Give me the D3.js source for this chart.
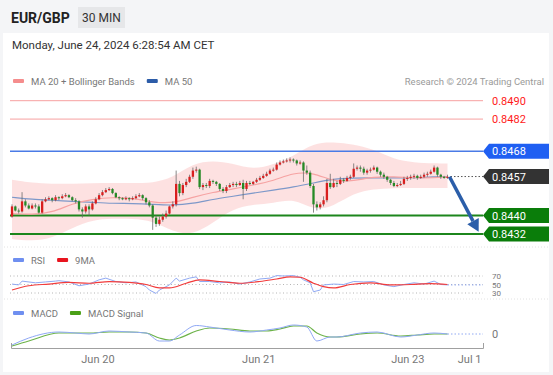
<!DOCTYPE html>
<html>
<head>
<meta charset="utf-8">
<script src="https://cdn.jsdelivr.net/npm/d3@7"></script>
<style>
body { margin: 0; background: #f4f5f7; }
svg { display: block; font-family: Roboto, "Liberation Sans", sans-serif; }
</style>
</head>
<body>
<div id="chart"></div>
<script>
var W = 553, H = 375;

// 30 min candles, [open, high, low, close]
var candles = [
[0.84396,0.84449,0.84391,0.84440],[0.84440,0.84444,0.84418,0.84422],[0.84422,0.84431,0.84409,0.84418],[0.84418,0.84502,0.84413,0.84462],
[0.84462,0.84471,0.84436,0.84444],[0.84444,0.84453,0.84427,0.84431],[0.84431,0.84453,0.84427,0.84444],[0.84444,0.84453,0.84431,0.84440],
[0.84440,0.84449,0.84409,0.84413],[0.84413,0.84471,0.84409,0.84462],[0.84462,0.84480,0.84458,0.84471],[0.84471,0.84484,0.84467,0.84476],
[0.84476,0.84480,0.84458,0.84467],[0.84467,0.84489,0.84462,0.84480],[0.84480,0.84484,0.84467,0.84476],[0.84476,0.84493,0.84471,0.84484],
[0.84484,0.84498,0.84480,0.84489],[0.84489,0.84493,0.84476,0.84480],[0.84480,0.84484,0.84462,0.84467],[0.84467,0.84476,0.84453,0.84462],
[0.84462,0.84467,0.84418,0.84427],[0.84427,0.84436,0.84391,0.84418],[0.84418,0.84449,0.84409,0.84440],[0.84440,0.84449,0.84400,0.84427],
[0.84427,0.84462,0.84422,0.84453],[0.84453,0.84480,0.84449,0.84471],[0.84471,0.84498,0.84467,0.84489],[0.84489,0.84511,0.84484,0.84502],
[0.84502,0.84520,0.84498,0.84511],[0.84511,0.84524,0.84507,0.84516],[0.84516,0.84520,0.84493,0.84498],[0.84498,0.84502,0.84476,0.84480],
[0.84480,0.84484,0.84467,0.84476],[0.84476,0.84480,0.84467,0.84471],[0.84471,0.84484,0.84467,0.84476],[0.84476,0.84480,0.84462,0.84471],
[0.84471,0.84484,0.84467,0.84476],[0.84476,0.84493,0.84471,0.84484],[0.84484,0.84498,0.84480,0.84489],[0.84489,0.84493,0.84467,0.84476],
[0.84476,0.84480,0.84449,0.84458],[0.84458,0.84467,0.84436,0.84444],[0.84444,0.84449,0.84338,0.84391],[0.84391,0.84400,0.84351,0.84364],
[0.84364,0.84396,0.84356,0.84382],[0.84382,0.84409,0.84373,0.84396],[0.84396,0.84422,0.84387,0.84409],[0.84409,0.84444,0.84404,0.84440],
[0.84440,0.84462,0.84431,0.84449],[0.84449,0.84596,0.84440,0.84538],[0.84538,0.84551,0.84484,0.84498],[0.84498,0.84542,0.84489,0.84533],
[0.84533,0.84560,0.84524,0.84547],[0.84547,0.84578,0.84542,0.84569],[0.84569,0.84609,0.84560,0.84596],[0.84596,0.84613,0.84587,0.84600],
[0.84600,0.84604,0.84516,0.84524],[0.84524,0.84542,0.84511,0.84533],[0.84533,0.84542,0.84520,0.84529],[0.84529,0.84560,0.84520,0.84551],
[0.84551,0.84556,0.84538,0.84547],[0.84547,0.84551,0.84529,0.84538],[0.84538,0.84542,0.84507,0.84516],[0.84516,0.84524,0.84498,0.84507],
[0.84507,0.84533,0.84498,0.84524],[0.84524,0.84542,0.84520,0.84533],[0.84533,0.84547,0.84524,0.84538],[0.84538,0.84547,0.84524,0.84533],
[0.84533,0.84551,0.84529,0.84542],[0.84542,0.84556,0.84471,0.84516],[0.84516,0.84551,0.84507,0.84542],[0.84542,0.84551,0.84533,0.84538],
[0.84538,0.84551,0.84533,0.84547],[0.84547,0.84564,0.84542,0.84556],[0.84556,0.84573,0.84551,0.84564],[0.84564,0.84582,0.84560,0.84573],
[0.84573,0.84591,0.84569,0.84582],[0.84582,0.84604,0.84578,0.84596],[0.84596,0.84609,0.84591,0.84600],[0.84600,0.84631,0.84596,0.84622],
[0.84622,0.84640,0.84618,0.84631],[0.84631,0.84644,0.84627,0.84636],[0.84636,0.84649,0.84631,0.84640],[0.84640,0.84653,0.84631,0.84644],
[0.84644,0.84649,0.84631,0.84640],[0.84640,0.84644,0.84618,0.84627],[0.84627,0.84640,0.84622,0.84631],[0.84631,0.84636,0.84547,0.84596],
[0.84596,0.84618,0.84578,0.84587],[0.84587,0.84596,0.84520,0.84529],[0.84529,0.84538,0.84413,0.84449],[0.84449,0.84462,0.84422,0.84436],
[0.84436,0.84458,0.84427,0.84449],[0.84449,0.84484,0.84440,0.84467],[0.84467,0.84560,0.84458,0.84542],[0.84542,0.84582,0.84516,0.84524],
[0.84524,0.84560,0.84520,0.84542],[0.84542,0.84551,0.84524,0.84538],[0.84538,0.84569,0.84533,0.84556],[0.84556,0.84564,0.84542,0.84551],
[0.84551,0.84573,0.84547,0.84564],[0.84564,0.84578,0.84556,0.84569],[0.84569,0.84627,0.84564,0.84604],[0.84604,0.84618,0.84596,0.84609],
[0.84609,0.84618,0.84591,0.84604],[0.84604,0.84613,0.84578,0.84587],[0.84587,0.84604,0.84578,0.84596],[0.84596,0.84609,0.84587,0.84600],
[0.84600,0.84618,0.84596,0.84609],[0.84609,0.84613,0.84582,0.84591],[0.84591,0.84596,0.84569,0.84578],[0.84578,0.84587,0.84560,0.84569],
[0.84569,0.84573,0.84547,0.84556],[0.84556,0.84560,0.84533,0.84542],[0.84542,0.84551,0.84524,0.84529],[0.84529,0.84542,0.84524,0.84533],
[0.84533,0.84551,0.84529,0.84538],[0.84538,0.84569,0.84533,0.84560],[0.84560,0.84573,0.84551,0.84564],[0.84564,0.84578,0.84556,0.84569],
[0.84569,0.84582,0.84560,0.84573],[0.84573,0.84578,0.84556,0.84564],[0.84564,0.84578,0.84560,0.84569],[0.84569,0.84587,0.84564,0.84578],
[0.84578,0.84591,0.84569,0.84582],[0.84582,0.84600,0.84578,0.84591],[0.84591,0.84618,0.84587,0.84609],[0.84609,0.84613,0.84569,0.84578],
[0.84578,0.84582,0.84560,0.84569],[0.84569,0.84573,0.84560,0.84564],[0.84564,0.84578,0.84560,0.84569]
];

// moving averages and bands, sampled at candle indices
var maIdx   = [0,6,12,18,24,30,36,42,48,54,60,66,72,78,84,90,96,102,108,114,120,126,130];
var ma20    = [0.84409,0.84404,0.84413,0.84453,0.84471,0.84480,0.84476,0.84458,0.84453,0.84480,0.84502,0.84516,0.84533,0.84551,0.84587,0.84587,0.84547,0.84551,0.84569,0.84569,0.84564,0.84564,0.84569];
var ma50    = [0.84480,0.84471,0.84467,0.84462,0.84458,0.84453,0.84453,0.84449,0.84444,0.84453,0.84471,0.84484,0.84498,0.84511,0.84524,0.84542,0.84560,0.84564,0.84564,0.84564,0.84564,0.84569,0.84569];
var bbUpper = [0.84556,0.84542,0.84538,0.84538,0.84542,0.84542,0.84542,0.84542,0.84564,0.84627,0.84640,0.84627,0.84600,0.84622,0.84658,0.84716,0.84720,0.84711,0.84689,0.84644,0.84631,0.84627,0.84627];
var bbLower = [0.84298,0.84289,0.84302,0.84347,0.84382,0.84387,0.84387,0.84378,0.84329,0.84316,0.84369,0.84431,0.84449,0.84453,0.84476,0.84422,0.84440,0.84498,0.84516,0.84520,0.84520,0.84520,0.84520];

var rsiIdx = [0,2,3,7,10,13,14,17,20,23,26,28,31,34,37,40,41,43,44,47,49,50,53,55,56,59,62,65,68,71,74,77,79,81,84,86,87,89,90,92,93,96,99,102,105,108,111,114,117,120,123,126,128,130];
var rsi    = [51,49,58,54,56,58,59,56,47,51,61,65,57,54,56,45,37,29,37,49,65,58,65,68,57,57,54,56,51,56,63,65,71,70,71,67,61,54,33,37,49,51,50,57,56,57,49,45,50,54,51,58,50,49];
var rsiMaIdx = [0,5,11,17,23,29,35,40,44,47,52,56,62,68,74,79,83,86,90,93,96,101,107,113,119,125,130];
var rsiMa    = [37,47,51,55,53,57,55,50,42,42,53,61,57,53,57,63,68,67,53,45,42,50,54,49,50,52,50];
var rsiLevels = [70, 50, 30];

var macdIdx    = [0,5,14,19,23,29,35,40,44,47,50,55,59,65,71,76,80,84,88,91,95,97,104,109,116,121,126,130];
var macd       = [-0.00022,-0.00008,0.00004,0.00002,0,0.00006,0.00004,0.00002,-0.00014,-0.00014,-0.00002,0.00017,0.00014,0.00008,0.00004,0.00008,0.00012,0.00018,0.00014,-0.00014,-0.00006,-0.00006,0.00002,0.00004,-0.00006,-0.00002,0.00002,0];
var macdSignal = [-0.00024,-0.00014,0.00002,0.00002,0.00002,0.00004,0.00004,0.00002,-0.00008,-0.00012,-0.00008,0.00006,0.00012,0.0001,0.00006,0.00006,0.0001,0.00016,0.00016,0.00002,-0.00006,-0.00006,0,0.00002,-0.00004,-0.00002,0,0];

var resistances = [0.8490, 0.8482];
var pivot = 0.8468;
var lastPrice = 0.8457;
var supports = [0.8440, 0.8432];
var arrowTarget = {idx: 139.3, price: 0.8433};

var tickIdx = [25.5, 73.5, 118];
var tickLabels = ['Jun 20', 'Jun 21', 'Jun 23', 'Jul 1'];

var svg = d3.select('#chart').append('svg').attr('width', W).attr('height', H);

// frame
svg.append('rect').attr('width', W).attr('height', H).attr('fill', '#f4f5f7');
svg.append('rect').attr('x', 3).attr('y', 33).attr('width', 546).attr('height', 339).attr('fill', '#fff');

// header
svg.append('text').attr('x', 11).attr('y', 23).attr('font-size', 14).attr('font-weight', 'bold').attr('fill', '#222').text('EUR/GBP');
svg.append('rect').attr('x', 78).attr('y', 7).attr('width', 47).attr('height', 21).attr('fill', '#e6e7e9');
svg.append('text').attr('x', 101.5).attr('y', 22).attr('text-anchor', 'middle').attr('font-size', 12).attr('fill', '#333').text('30 MIN');
svg.append('text').attr('x', 12).attr('y', 49).attr('font-size', 11.5).attr('fill', '#333').text('Monday, June 24, 2024 6:28:54 AM CET');

var x = d3.scaleLinear().domain([0, 130]).range([12, 447.5]);
var y = d3.scaleLinear().domain([0.8432, 0.8490]).range([234, 100.7]);
var yR = d3.scaleLinear().domain([30, 70]).range([293, 276]);
var yM = d3.scaleLinear().domain([-0.0002, 0.0002]).range([344, 324]);
var xL = 10, xR = 483;

function legend(g, yy, items) {
	var cx = 13;
	items.forEach(function(it) {
		g.append('rect').attr('x', cx).attr('y', yy - 2).attr('width', 11).attr('height', 4).attr('rx', 1).attr('fill', it.c);
		var t = g.append('text').attr('x', cx + 18).attr('y', yy + 3.5).attr('font-size', 9.5).attr('fill', '#777').text(it.t);
		cx += 18 + t.node().getComputedTextLength() + 12;
	});
}

// main legend
legend(svg, 81, [{t: 'MA 20 + Bollinger Bands', c: '#f58d8d'}, {t: 'MA 50', c: '#2c5ca8'}]);
svg.append('text').attr('x', 544).attr('y', 85).attr('text-anchor', 'end').attr('font-size', 9.5).attr('fill', '#9a9a9a').text('Research \u00a9 2024 Trading Central');

// bollinger band
var band = d3.area().curve(d3.curveBasis)
	.x(function(d, i) { return x(maIdx[i]); })
	.y0(function(d, i) { return y(bbLower[i]); })
	.y1(function(d, i) { return y(bbUpper[i]); });
svg.append('path').attr('d', band(maIdx)).attr('fill', '#fddcdc').attr('opacity', 0.85);

// level lines
resistances.forEach(function(p) {
	svg.append('line').attr('x1', xL).attr('x2', xR).attr('y1', y(p)).attr('y2', y(p)).attr('stroke', '#f7a1a1').attr('stroke-width', 1);
	svg.append('text').attr('x', 492).attr('y', y(p) + 4).attr('font-size', 11).attr('fill', '#ff1a1a').text(p.toFixed(4));
});
svg.append('line').attr('x1', xL).attr('x2', xR).attr('y1', y(pivot)).attr('y2', y(pivot)).attr('stroke', '#4a7be6').attr('stroke-width', 1.5);
supports.forEach(function(p) {
	svg.append('line').attr('x1', xL).attr('x2', xR).attr('y1', y(p)).attr('y2', y(p)).attr('stroke', '#1c861c').attr('stroke-width', 2);
});

// moving averages
function seriesLine(xs, ys, sc, curve) {
	return d3.line().curve(curve || d3.curveBasis)
		.x(function(d, i) { return x(xs[i]); })
		.y(function(d, i) { return sc(ys[i]); })(xs);
}
svg.append('path').attr('d', seriesLine(maIdx, ma50, y)).attr('fill', 'none').attr('stroke', '#7d98c9').attr('stroke-width', 1.2);
svg.append('path').attr('d', seriesLine(maIdx, ma20, y)).attr('fill', 'none').attr('stroke', '#f6a3a3').attr('stroke-width', 1.2);

// candles
var cg = svg.append('g');
cg.selectAll('.wick').data(candles).enter().append('line')
	.attr('x1', function(d, i) { return x(i); })
	.attr('x2', function(d, i) { return x(i); })
	.attr('y1', function(d) { return y(d[1]); })
	.attr('y2', function(d) { return y(d[2]); })
	.attr('stroke', '#6a6a6a').attr('stroke-width', 0.8);
cg.selectAll('.body').data(candles).enter().append('rect')
	.attr('x', function(d, i) { return x(i) - 1.15; })
	.attr('width', 2.3)
	.attr('y', function(d) { return y(Math.max(d[0], d[3])); })
	.attr('height', function(d) { return Math.max(1, Math.abs(y(d[0]) - y(d[3]))); })
	.attr('fill', function(d) { return d[3] >= d[0] ? '#d91e1e' : '#268a26'; });

// last price dotted line
var last = candles[candles.length - 1];
svg.append('line').attr('x1', x(candles.length - 1) + 3).attr('x2', xR).attr('y1', y(lastPrice)).attr('y2', y(lastPrice))
	.attr('stroke', '#555').attr('stroke-width', 1).attr('stroke-dasharray', '1.5,2');

// forecast arrow
var ax0 = x(candles.length - 1) + 2, ay0 = y(last[3]);
var ax1 = x(arrowTarget.idx), ay1 = y(arrowTarget.price);
var ang = Math.atan2(ay1 - ay0, ax1 - ax0);
var hl = 12, hw = 6.5;
var bx = ax1 - hl * Math.cos(ang), by = ay1 - hl * Math.sin(ang);
svg.append('line').attr('x1', ax0).attr('y1', ay0).attr('x2', bx).attr('y2', by).attr('stroke', '#2b5ea9').attr('stroke-width', 3.5);
svg.append('path').attr('fill', '#2b5ea9').attr('d',
	'M' + ax1 + ',' + ay1 +
	'L' + (bx + hw * Math.sin(ang)) + ',' + (by - hw * Math.cos(ang)) +
	'L' + (bx - hw * Math.sin(ang)) + ',' + (by + hw * Math.cos(ang)) + 'Z');

// price tags
function tag(p, col) {
	var cy = y(p);
	svg.append('path').attr('fill', col)
		.attr('d', 'M483,' + cy + 'L489,' + (cy - 7.5) + 'H549V' + (cy + 7.5) + 'H489Z');
	svg.append('text').attr('x', 492).attr('y', cy + 4).attr('font-size', 11).attr('fill', '#fff').text(p.toFixed(4));
}
tag(pivot, '#1f5ff2');
tag(lastPrice, '#333');
supports.forEach(function(p) { tag(p, '#0a7d0a'); });

// separators
[247, 299].forEach(function(yy) {
	svg.append('line').attr('x1', 4).attr('x2', 548).attr('y1', yy).attr('y2', yy)
		.attr('stroke', '#e2e2e2').attr('stroke-dasharray', '1,2');
});

// RSI panel
legend(svg, 260, [{t: 'RSI', c: '#6f8ff0'}, {t: '9MA', c: '#e8141e'}]);
var rg = svg.append('g');
rsiLevels.forEach(function(v) {
	rg.append('line').attr('x1', xL).attr('x2', xR).attr('y1', yR(v)).attr('y2', yR(v))
		.attr('stroke', '#b5b5b5').attr('stroke-dasharray', '1,2.5');
});
rg.append('path').attr('d', seriesLine(rsiIdx, rsi, yR, d3.curveLinear)).attr('fill', 'none').attr('stroke', '#90a9f3').attr('stroke-width', 1);
rg.append('path').attr('d', seriesLine(rsiMaIdx, rsiMa, yR, d3.curveMonotoneX)).attr('fill', 'none').attr('stroke', '#f23c3c').attr('stroke-width', 1.2);
rg.append('line').attr('x1', x(130)).attr('x2', xR).attr('y1', yR(rsi[rsi.length - 1])).attr('y2', yR(rsi[rsi.length - 1]))
	.attr('stroke', '#90a9f3').attr('stroke-dasharray', '1.5,2');
rsiLevels.forEach(function(v) {
	rg.append('text').attr('x', 492).attr('y', yR(v) + 3).attr('font-size', 8).attr('fill', '#777').text(v);
});

// MACD panel
legend(svg, 313, [{t: 'MACD', c: '#6f8ff0'}, {t: 'MACD Signal', c: '#4aa017'}]);
svg.append('path').attr('d', seriesLine(macdIdx, macdSignal, yM, d3.curveMonotoneX)).attr('fill', 'none').attr('stroke', '#6db34a').attr('stroke-width', 1.2);
svg.append('path').attr('d', seriesLine(macdIdx, macd, yM, d3.curveMonotoneX)).attr('fill', 'none').attr('stroke', '#8fa8f5').attr('stroke-width', 1);
svg.append('line').attr('x1', x(130)).attr('x2', xR).attr('y1', yM(0)).attr('y2', yM(0))
	.attr('stroke', '#90a9f3').attr('stroke-dasharray', '1.5,2');
svg.append('text').attr('x', 492).attr('y', yM(0) + 4).attr('font-size', 11).attr('fill', '#777').text('0');

// time axis
var xa = d3.scaleLinear().domain([x.invert(11), x.invert(xR)]).range([11, xR]);
var ticks = tickIdx.concat([x.invert(xR)]);
var axis = d3.axisBottom(xa).tickValues(ticks)
	.tickFormat(function(d, i) { return tickLabels[i]; })
	.tickSize(0).tickSizeOuter(-5).tickPadding(7);
var ag = svg.append('g').attr('transform', 'translate(0,348)').call(axis);
ag.select('.domain').attr('stroke', '#a0a0a0');
ag.selectAll('text').attr('font-size', 11).attr('fill', '#777').attr('font-family', 'Roboto, "Liberation Sans", sans-serif');
ag.selectAll('.tick:last-of-type text').attr('text-anchor', 'end').attr('dx', -2);
</script>
</body>
</html>
